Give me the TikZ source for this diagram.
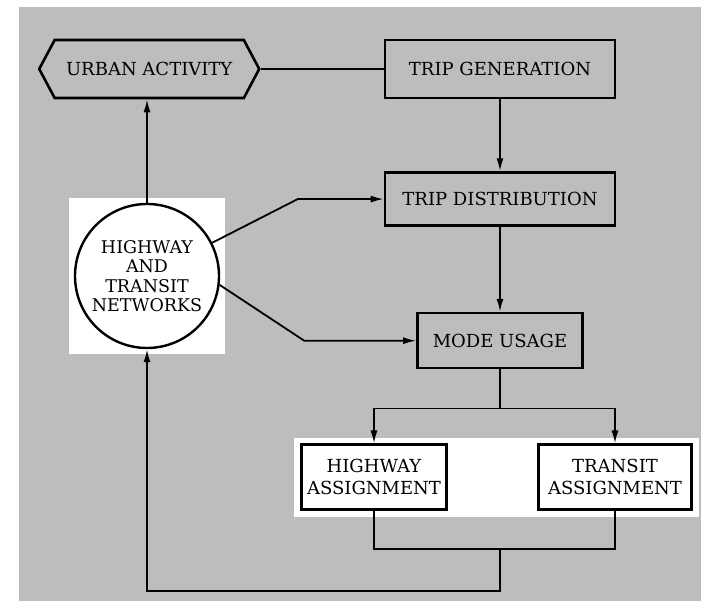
\documentclass[tikz,border=0pt]{standalone}
\usepackage{fontspec}
\setmainfont{DejaVu Serif}
\usetikzlibrary{positioning, arrows.meta, shapes.symbols, fit, backgrounds}

\definecolor{paper}{gray}{0.74}

\begin{document}
\begin{tikzpicture}[
    x=1pt, y=1pt,
    proc_box/.style={rectangle, draw, line width=2.6pt, inner sep=0pt, align=center,
      font=\fontsize{18}{22}\selectfont},
    hex_box/.style={signal, signal to=west and east, signal pointer angle=124, draw,
      line width=2.6pt, inner sep=0pt, minimum width=220pt, minimum height=58pt,
      font=\fontsize{18}{22}\selectfont},
    net_var/.style={circle, draw, line width=2.4pt, fill=white, minimum size=144pt,
      inner sep=0pt, align=center, font=\fontsize{17.5}{19.5}\selectfont},
    edge_path/.style={-{Latex[length=13pt, width=7pt]}, line width=1.8pt},
    link_line/.style={line width=1.8pt},
    node distance=72pt and 123pt
  ]
  \useasboundingbox (0,0) rectangle (703,601);

  % main chain on the right
  \node[proc_box, minimum width=230pt, minimum height=58pt] (TG) at (500,532) {TRIP GENERATION};
  \node[hex_box, left=123pt of TG] (UA) {URBAN ACTIVITY};
  \node[proc_box, minimum width=230pt, minimum height=53pt, below=72pt of TG] (TD) {TRIP DISTRIBUTION};
  \node[proc_box, minimum width=165pt, minimum height=55pt, below=85pt of TD] (MU) {MODE USAGE};
  \node[proc_box, fill=white, minimum width=145pt, minimum height=65pt,
    below=74pt of MU, xshift=-126pt] (HA) {HIGHWAY\\ASSIGNMENT};
  \node[proc_box, fill=white, minimum width=153pt, minimum height=65pt,
    below=74pt of MU, xshift=115pt] (TA) {TRANSIT\\ASSIGNMENT};

  % networks
  \node[net_var] (NET) at (147,325) {HIGHWAY\\AND\\TRANSIT\\NETWORKS};

  % bends and junctions
  \coordinate[left=86pt of TD.west] (bend_td);
  \coordinate[left=112pt of MU.west] (bend_mu);
  \coordinate[below=39pt of MU.south] (split);
  \coordinate[below=38pt of HA.south] (merge_ha);
  \coordinate (join) at (merge_ha -| split);
  \coordinate[below=42pt of join] (back);

  \draw[link_line] (UA.east) -- (TG.west);
  \draw[edge_path] (TG) -- (TD);
  \draw[edge_path] (TD) -- (MU);
  \draw[edge_path] (NET.north) -- (NET.north |- UA.south);
  \draw[edge_path] (NET.27) -- (bend_td) -- (TD.west);
  \draw[edge_path] (NET.-7) -- (bend_mu) -- (MU.west);
  \draw[link_line] (MU.south) -- (split);
  \draw[edge_path] (split) -| (HA.north);
  \draw[edge_path] (split) -| (TA.north);
  \draw[link_line] (HA.south) -- (merge_ha) -| (TA.south);
  \draw[edge_path] (join) -- (back) -| (NET.south);

  \begin{pgfonlayer}{background}
    \fill[paper] (19,0) rectangle (701,594);
    \node[fit=(NET), fill=white, inner sep=5pt] (net_patch) {};
    \node[fit=(HA)(TA), fill=white, inner xsep=6pt, inner ysep=5.5pt] (band) {};
  \end{pgfonlayer}
\end{tikzpicture}
\end{document}
